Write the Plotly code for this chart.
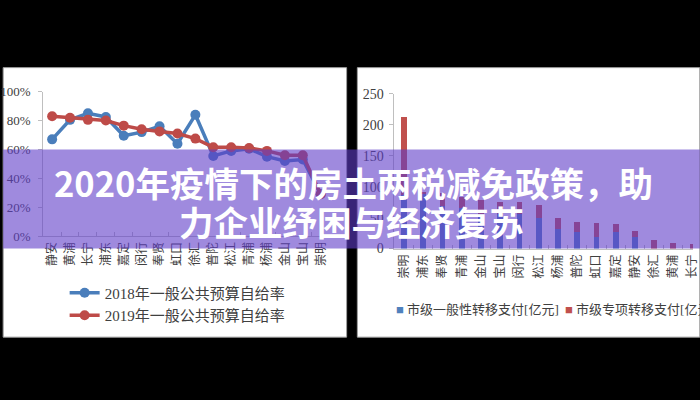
import plotly.graph_objects as go

W, H = 700, 400

# ---------------- data: left chart (self-sufficiency rate, %) ----------------
districts_left = ["静安", "黄浦", "长宁", "浦东", "嘉定", "闵行", "奉贤", "虹口",
                  "徐汇", "普陀", "松江", "青浦", "杨浦", "金山", "宝山", "崇明"]
rate_2018 = [67, 80.5, 85, 82.5, 69.5, 72, 76, 64, 84, 55.5, 59, 60.5, 55, 52, 53, 29]
rate_2019 = [83, 82, 80.5, 80, 76.5, 74, 72.5, 71, 67.5, 61.5, 61.5, 61, 59, 56, 56, 29]
rate_ticks = [0, 20, 40, 60, 80, 100]
series_left = ["2018年一般公共预算自给率", "2019年一般公共预算自给率"]

# ---------------- data: right chart (transfer payments, 亿元) ----------------
districts_right = ["崇明", "浦东", "奉贤", "青浦", "金山", "宝山", "闵行", "松江",
                   "杨浦", "普陀", "虹口", "嘉定", "静安", "徐汇", "黄浦", "长宁"]
general_transfer = [87, 90, 69, 66, 56, 56, 56, 49, 31.5, 27, 18, 26, 18, 0, 0, 0]
special_transfer = [125, 2, 21, 18, 23, 19, 19, 22, 17.5, 16, 24, 14, 10.5, 14, 9, 7]
amount_ticks = [0, 50, 100, 150, 200, 250]
series_right = ["市级一般性转移支付[亿元]", "市级专项转移支付[亿元]"]

title_lines = ["2020年疫情下的房土两税减免政策，助", "力企业纾困与经济复苏"]

# ---------------- styling ----------------
BLUE = "#4a7ebb"
RED = "#be4b48"
AXIS = "#bfbfbf"
TXT = "#404040"
SERIF = "Liberation Serif, Noto Sans CJK SC, serif"


def px(x):
    return x / W


def py(y):
    return (H - y) / H


fig = go.Figure()

fig.add_trace(go.Scatter(x=districts_left, y=rate_2018, name=series_left[0],
                         mode="lines+markers", xaxis="x", yaxis="y",
                         line=dict(color=BLUE, width=3.5),
                         marker=dict(color=BLUE, size=10), legend="legend"))
fig.add_trace(go.Scatter(x=districts_left, y=rate_2019, name=series_left[1],
                         mode="lines+markers", xaxis="x", yaxis="y",
                         line=dict(color=RED, width=3.5),
                         marker=dict(color=RED, size=10), legend="legend"))

fig.add_trace(go.Bar(x=districts_right, y=general_transfer, name=series_right[0],
                     xaxis="x2", yaxis="y2", marker=dict(color="#4f81bd", line_width=0),
                     showlegend=False))
fig.add_trace(go.Bar(x=districts_right, y=special_transfer, name=series_right[1],
                     xaxis="x2", yaxis="y2", marker=dict(color="#c0504d", line_width=0),
                     showlegend=False))

common_x = dict(type="category", showline=True, linecolor=AXIS, linewidth=1,
                ticks="inside", tickson="boundaries", ticklen=4, tickcolor=AXIS,
                tickangle=-90, showgrid=False, zeroline=False,
                tickfont=dict(family=SERIF, size=12, color=TXT))
common_y = dict(showline=True, linecolor=AXIS, linewidth=1, ticks="outside",
                ticklen=4, tickcolor=AXIS, showgrid=False, zeroline=False,
                tickfont=dict(family=SERIF, size=14, color=TXT))

fig.update_layout(
    width=W, height=H,
    margin=dict(l=0, r=0, t=0, b=0),
    paper_bgcolor="black",
    plot_bgcolor="rgba(0,0,0,0)",
    barmode="stack",
    bargap=0.7,
    xaxis=dict(common_x, domain=[px(34), px(327.6)], anchor="y",
               range=[-0.5, 15.5]),
    yaxis=dict(common_y, domain=[py(238), py(88)], anchor="x", range=[0, 100],
               tickvals=rate_ticks, ticktext=[f"{v}%" for v in rate_ticks],
               ticklabelstandoff=5,
               tickfont=dict(family=SERIF, size=13, color=TXT)),
    xaxis2=dict(common_x, domain=[px(394), 1.0], anchor="y2",
                range=[-0.5, 15.02]),
    yaxis2=dict(common_y, domain=[py(251), py(90)], anchor="x2", range=[0, 250],
                tickvals=amount_ticks, ticklabelstandoff=3),
    legend=dict(x=px(56), y=py(280), xanchor="left", yanchor="top",
                bgcolor="rgba(0,0,0,0)", font=dict(family=SERIF, size=15, color=TXT),
                orientation="v", traceorder="normal"),
    shapes=[
        dict(type="rect", xref="paper", yref="paper", x0=-0.01, x1=px(345),
             y0=py(343), y1=py(63), fillcolor="white", layer="below",
             line=dict(color="#a0a0a0", width=1)),
        dict(type="rect", xref="paper", yref="paper", x0=px(356), x1=1.01,
             y0=py(343), y1=py(63), fillcolor="white", layer="below",
             line=dict(color="#a0a0a0", width=1)),
        dict(type="rect", xref="paper", yref="paper", x0=-0.01, x1=1.01,
             y0=py(251), y1=py(148), fillcolor="rgba(95,60,200,0.6)",
             layer="above", line=dict(width=0)),
    ],
    annotations=[
        dict(xref="paper", yref="paper", x=px(352), y=py(182), xanchor="center",
             yanchor="middle", showarrow=False, text=f"<b>{title_lines[0]}</b>",
             font=dict(family="Noto Sans CJK SC", size=34.5, color="white")),
        dict(xref="paper", yref="paper", x=px(350), y=py(222), xanchor="center",
             yanchor="middle", showarrow=False, text=f"<b>{title_lines[1]}</b>",
             font=dict(family="Noto Sans CJK SC", size=34.5, color="white")),
        dict(xref="paper", yref="paper", x=px(394), y=py(314), xanchor="left",
             yanchor="middle", showarrow=False,
             text=f'<span style="color:#4f81bd">■</span> {series_right[0]}',
             font=dict(family=SERIF, size=13, color=TXT)),
        dict(xref="paper", yref="paper", x=px(567), y=py(314), xanchor="left",
             yanchor="middle", showarrow=False,
             text=f'<span style="color:#c0504d">■</span> {series_right[1]}',
             font=dict(family=SERIF, size=13, color=TXT)),
    ],
)

fig.write_html("out.html",
               config={"displayModeBar": False},
               post_script="document.body.style.margin='0';"
                           "document.body.style.overflow='hidden';")
